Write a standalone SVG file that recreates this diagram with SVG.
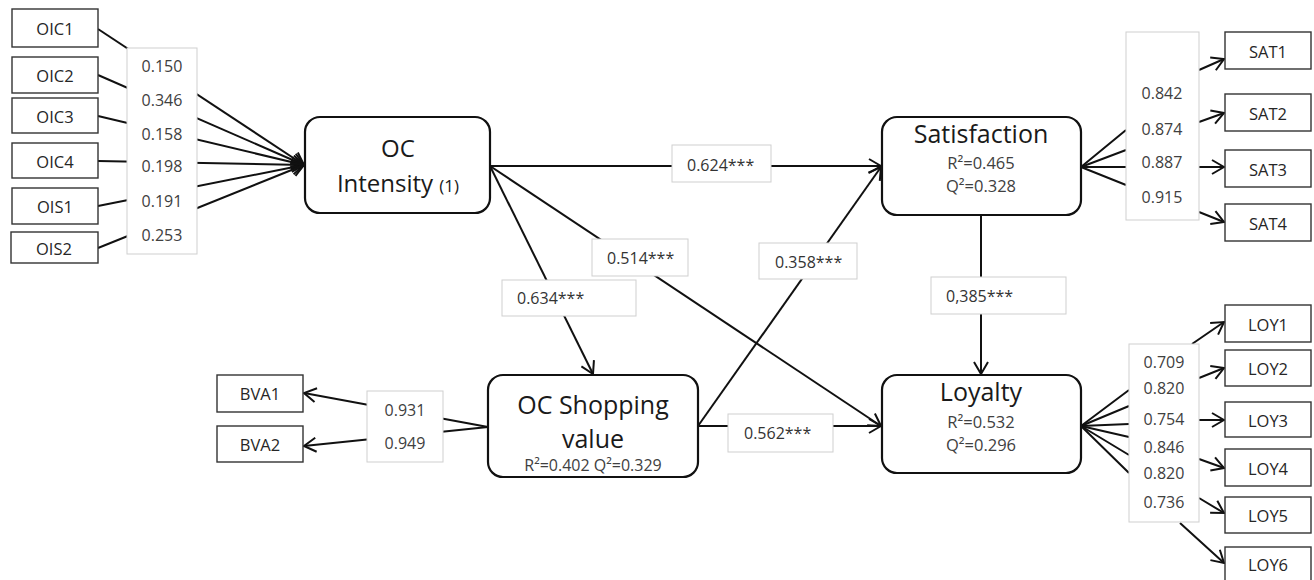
<svg xmlns="http://www.w3.org/2000/svg" width="1314" height="580" viewBox="0 0 1314 580">
<style>
.line{stroke:#111;stroke-width:2;fill:none}
.arr{marker-end:url(#ah)}
.lab{fill:#fff;stroke:#cfcfcf;stroke-width:1}
.ind{fill:#fff;stroke:#333;stroke-width:1.4}
.con{fill:#fff;stroke:#111;stroke-width:2.2}
text{font-family:"Open Sans","Liberation Sans",sans-serif}
.it{font-size:16.5px;fill:#262626;text-anchor:middle;dominant-baseline:central}
.ld{font-size:16px;fill:#404040;text-anchor:middle;dominant-baseline:central}
.el{font-size:16px;fill:#333;dominant-baseline:central}
.tt{font-size:25px;fill:#1a1a1a;text-anchor:middle}
.st{font-size:16.5px;fill:#404040;text-anchor:middle}
</style>
<defs>
<marker id="ah" viewBox="0 0 14 16" refX="13" refY="8" markerWidth="14" markerHeight="16" markerUnits="userSpaceOnUse" orient="auto">
<path d="M1,1 L13,8 L1,15" fill="none" stroke="#111" stroke-width="2"/>
</marker>
</defs>
<g id="connectors">
<path class="line arr" d="M98,29 L304,165"/>
<path class="line arr" d="M98,75 L304,165"/>
<path class="line arr" d="M98,116 L304,165"/>
<path class="line arr" d="M98,161 L304,165"/>
<path class="line arr" d="M98,206 L304,165"/>
<path class="line arr" d="M98,248 L304,165"/>
<path class="line arr" d="M490,166 L881,166"/>
<path class="line arr" d="M490,166 L881,426"/>
<path class="line arr" d="M490,166 L593,374"/>
<path class="line arr" d="M698,426 L881,167"/>
<path class="line arr" d="M698,426 L881,426"/>
<path class="line arr" d="M981,215 L981,374"/>
<path class="line arr" d="M488,427 L304,393"/>
<path class="line arr" d="M488,427 L304,446"/>
<path class="line arr" d="M1081,167 L1126,130 M1199,70 L1224,59"/>
<path class="line arr" d="M1081,167 L1126,150 M1199,122 L1224,113"/>
<path class="line arr" d="M1081,167 L1126,167 M1199,167 L1224,167"/>
<path class="line arr" d="M1081,167 L1126,185 M1199,212 L1224,222"/>
<path class="line arr" d="M1081,426 L1129,390 M1192,344 L1224,322"/>
<path class="line arr" d="M1081,426 L1129,406 M1199,378 L1224,368"/>
<path class="line arr" d="M1081,426 L1129,424 M1199,420 L1224,420"/>
<path class="line arr" d="M1081,426 L1129,437 M1199,459 L1224,468"/>
<path class="line arr" d="M1081,426 L1129,455 M1199,498 L1224,513"/>
<path class="line arr" d="M1081,426 L1129,473 M1180,523 L1224,563"/>
<rect class="lab" x="127" y="48" width="70" height="206"/>
<text class="ld" x="162" y="66">0.150</text>
<text class="ld" x="162" y="100">0.346</text>
<text class="ld" x="162" y="134">0.158</text>
<text class="ld" x="162" y="166">0.198</text>
<text class="ld" x="162" y="201">0.191</text>
<text class="ld" x="162" y="235">0.253</text>
<rect class="lab" x="367" y="391" width="76" height="71"/>
<text class="ld" x="405" y="410">0.931</text>
<text class="ld" x="405" y="443">0.949</text>
<rect class="lab" x="1126" y="32" width="73" height="188"/>
<text class="ld" x="1162" y="93">0.842</text>
<text class="ld" x="1162" y="129">0.874</text>
<text class="ld" x="1162" y="162">0.887</text>
<text class="ld" x="1162" y="197">0.915</text>
<rect class="lab" x="1129" y="344" width="70" height="178"/>
<text class="ld" x="1164" y="362">0.709</text>
<text class="ld" x="1164" y="388">0.820</text>
<text class="ld" x="1164" y="419">0.754</text>
<text class="ld" x="1164" y="447">0.846</text>
<text class="ld" x="1164" y="473">0.820</text>
<text class="ld" x="1164" y="502">0.736</text>
<rect class="lab" x="672" y="145" width="99" height="37"/>
<text class="el" x="687" y="165">0.624***</text>
<rect class="lab" x="592" y="239" width="96" height="37"/>
<text class="el" x="607" y="258">0.514***</text>
<rect class="lab" x="502" y="280" width="134" height="36"/>
<text class="el" x="517" y="298">0.634***</text>
<rect class="lab" x="759" y="243" width="98" height="36"/>
<text class="el" x="775" y="262">0.358***</text>
<rect class="lab" x="728" y="414" width="105" height="38"/>
<text class="el" x="744" y="433">0.562***</text>
<rect class="lab" x="931" y="277" width="135" height="37"/>
<text class="el" x="946" y="296">0,385***</text>
</g>
<g id="OIC1"><rect class="ind" x="12" y="9" width="86" height="38"/><text class="it" x="55" y="28">OIC1</text></g>
<g id="OIC2"><rect class="ind" x="12" y="57" width="86" height="36"/><text class="it" x="55" y="75">OIC2</text></g>
<g id="OIC3"><rect class="ind" x="12" y="98" width="86" height="35"/><text class="it" x="55" y="116">OIC3</text></g>
<g id="OIC4"><rect class="ind" x="12" y="143" width="86" height="35"/><text class="it" x="55" y="161">OIC4</text></g>
<g id="OIS1"><rect class="ind" x="12" y="188" width="86" height="36"/><text class="it" x="55" y="206">OIS1</text></g>
<g id="OIS2"><rect class="ind" x="11" y="232" width="87" height="31"/><text class="it" x="54" y="248">OIS2</text></g>
<g id="BVA1"><rect class="ind" x="217" y="375" width="86" height="37"/><text class="it" x="260" y="393">BVA1</text></g>
<g id="BVA2"><rect class="ind" x="217" y="426" width="86" height="36"/><text class="it" x="260" y="444">BVA2</text></g>
<g id="SAT1"><rect class="ind" x="1225" y="32" width="86" height="37"/><text class="it" x="1268" y="51">SAT1</text></g>
<g id="SAT2"><rect class="ind" x="1225" y="94" width="86" height="37"/><text class="it" x="1268" y="113">SAT2</text></g>
<g id="SAT3"><rect class="ind" x="1225" y="150" width="86" height="37"/><text class="it" x="1268" y="169">SAT3</text></g>
<g id="SAT4"><rect class="ind" x="1225" y="204" width="86" height="37"/><text class="it" x="1268" y="223">SAT4</text></g>
<g id="LOY1"><rect class="ind" x="1225" y="305" width="86" height="37"/><text class="it" x="1268" y="324">LOY1</text></g>
<g id="LOY2"><rect class="ind" x="1225" y="350" width="86" height="36"/><text class="it" x="1268" y="368">LOY2</text></g>
<g id="LOY3"><rect class="ind" x="1225" y="402" width="86" height="35"/><text class="it" x="1268" y="420">LOY3</text></g>
<g id="LOY4"><rect class="ind" x="1225" y="449" width="86" height="37"/><text class="it" x="1268" y="468">LOY4</text></g>
<g id="LOY5"><rect class="ind" x="1225" y="497" width="86" height="36"/><text class="it" x="1268" y="515">LOY5</text></g>
<g id="LOY6"><rect class="ind" x="1225" y="547" width="86" height="36"/><text class="it" x="1268" y="564">LOY6</text></g>
<g id="OCIntensity"><rect class="con" x="305" y="117" width="185" height="96" rx="15"/>
<text class="tt" x="398" y="157" style="font-size:24px">OC</text>
<text class="tt" x="398" y="192" style="font-size:24px">Intensity <tspan style="font-size:17px">(1)</tspan></text></g>
<g id="Satisfaction"><rect class="con" x="882" y="117" width="199" height="98" rx="15"/>
<text class="tt" x="981" y="143">Satisfaction</text>
<text class="st" x="981" y="169">R²=0.465</text>
<text class="st" x="981" y="192">Q²=0.328</text></g>
<g id="Loyalty"><rect class="con" x="882" y="375" width="199" height="98" rx="15"/>
<text class="tt" x="981" y="401">Loyalty</text>
<text class="st" x="981" y="428">R²=0.532</text>
<text class="st" x="981" y="451">Q²=0.296</text></g>
<g id="OCShoppingValue"><rect class="con" x="488" y="375" width="210" height="102" rx="15"/>
<text class="tt" x="593" y="414">OC Shopping</text>
<text class="tt" x="593" y="448">value</text>
<text class="st" x="593" y="471" style="font-size:16px">R²=0.402 Q²=0.329</text></g>
</svg>
